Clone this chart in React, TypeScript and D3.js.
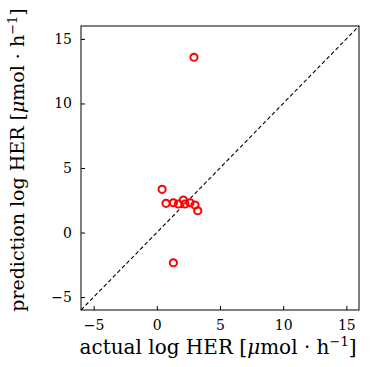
import React, { useEffect, useRef } from 'react';
import * as d3 from 'd3';

// actual vs predicted log HER values
const actual = [0.42, 0.73, 1.31, 1.70, 2.10, 2.23, 2.63, 3.02, 3.24, 1.31, 2.94];
const predicted = [3.35, 2.26, 2.31, 2.21, 2.52, 2.21, 2.31, 2.13, 1.69, -2.34, 13.58];
const ticks = [-5, 0, 5, 10, 15];
const limits = [-6, 16];

const serif = '"DejaVu Serif", "Liberation Serif", serif';

function App() {
  const ref = useRef<SVGGElement>(null);
  const width = 371;
  const height = 367;
  const margin = { top: 26, right: 12, bottom: 57, left: 81 };
  const w = width - margin.left - margin.right;
  const h = height - margin.top - margin.bottom;

  useEffect(() => {
    const g = d3.select(ref.current);
    g.selectAll('*').remove();

    const x = d3.scaleLinear().domain(limits).range([0, w]);
    const y = d3.scaleLinear().domain(limits).range([h, 0]);
    const fmt = (d: any) => (+d < 0 ? '\u2212' + Math.abs(+d) : String(d));

    // diagonal
    g.append('line')
      .attr('x1', x(limits[0])).attr('y1', y(limits[0]))
      .attr('x2', x(limits[1])).attr('y2', y(limits[1]))
      .attr('stroke', 'black').attr('stroke-width', 1.1)
      .attr('stroke-dasharray', '4,2.5');

    // points
    g.selectAll('circle.pt')
      .data(actual.map((a, i) => [a, predicted[i]]))
      .enter().append('circle')
      .attr('class', 'pt')
      .attr('cx', d => x(d[0]))
      .attr('cy', d => y(d[1]))
      .attr('r', 3.6)
      .attr('fill', 'none')
      .attr('stroke', '#ff0000')
      .attr('stroke-width', 2);

    const xAxis = g.append('g')
      .attr('transform', 'translate(0,' + h + ')')
      .call(d3.axisBottom(x).tickValues(ticks).tickSize(-4).tickPadding(10).tickFormat(fmt));
    xAxis.select('.domain').remove();
    xAxis.selectAll('text').attr('font-family', serif).attr('font-size', 14).attr('fill', 'black');

    const yAxis = g.append('g')
      .call(d3.axisLeft(y).tickValues(ticks).tickSize(-4).tickPadding(9).tickFormat(fmt));
    yAxis.select('.domain').remove();
    yAxis.selectAll('text').attr('font-family', serif).attr('font-size', 14).attr('fill', 'black');

    // frame
    g.append('rect')
      .attr('x', 0).attr('y', 0).attr('width', w).attr('height', h)
      .attr('fill', 'none').attr('stroke', 'black').attr('stroke-width', 1);
  }, []);

  const label = (pre: string, sup: number) => (
    <>
      {pre} log HER [<tspan fontStyle="italic">μ</tspan>mol · h
      <tspan dy={-sup} fontSize={13}>−1</tspan><tspan dy={sup}>]</tspan>
    </>
  );

  return (
    <svg width={width} height={height} style={{ position: 'absolute', left: 0, top: 0 }}>
      <g ref={ref} transform={`translate(${margin.left},${margin.top})`} />
      <text x={margin.left + w / 2 - 2} y={354} textAnchor="middle"
        fontFamily={serif} fontSize={20} fill="black">
        {label('actual', 8)}
      </text>
      <text transform={`translate(24,${margin.top + h / 2 - 8}) rotate(-90)`} textAnchor="middle"
        fontFamily={serif} fontSize={19} fill="black">
        {label('prediction', 7)}
      </text>
    </svg>
  );
}

export default App;
